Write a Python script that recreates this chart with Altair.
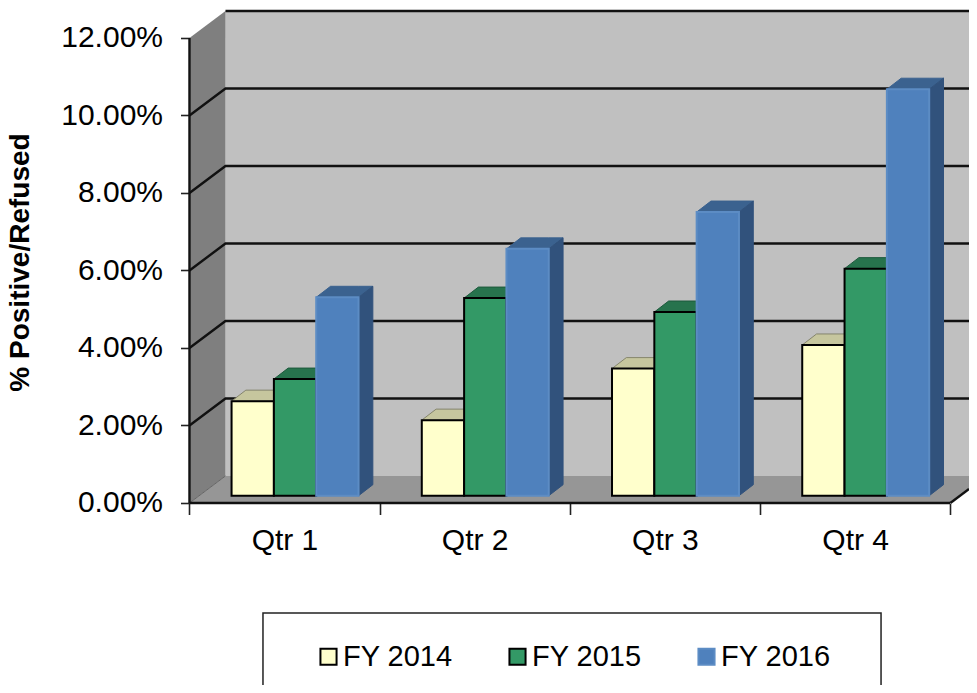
import altair as alt
import pandas as pd

# ---- chart values ----
quarters = ["Qtr 1", "Qtr 2", "Qtr 3", "Qtr 4"]
series = ["FY 2014", "FY 2015", "FY 2016"]
fy2014 = [0.0244, 0.0195, 0.0328, 0.0389]
fy2015 = [0.0301, 0.0510, 0.0474, 0.0586]
fy2016 = [0.0512, 0.0637, 0.0732, 0.1049]
y_ticks = [0, 0.02, 0.04, 0.06, 0.08, 0.10, 0.12]
x_ticks = [0, 1, 2, 3, 4]

front_colors = ["#ffffcc", "#339966", "#4f81bd"]
top_colors = ["#c6c69e", "#27734d", "#3b628f"]
side_colors = ["#b0b08c", "#226644", "#31527c"]
outline_colors = ["#85856c", "#1d5a3c", "#3b628f"]
edge_colors = ["#000000", "#000000", "#5c8cc4"]

# ---- 3D projection of the box, in data units ----
XMIN, XMAX = -0.954, 4.098
YMIN, YMAX = -0.04697, 0.12774
WALL_DX, WALL_DY = 0.1893, 0.00697   # front plane -> back wall
BAR_DX, BAR_DY = 0.0752, 0.00284     # depth of a bar
BAR_X0, BAR_W = 0.2213, 0.2225       # first bar's offset in a category, bar width
BAR_BASE = 0.00188                   # rise of the bars' plane above the front edge

xs = alt.Scale(domain=[XMIN, XMAX], range=[0, 961], nice=False, zero=False)
ys = alt.Scale(domain=[YMIN, YMAX], range=[677, 0], nice=False, zero=False)

x_axis = alt.Axis(
    values=x_ticks, offset=-181.5, domain=False, grid=False,
    tickSize=11, tickWidth=1.6, tickColor="#222222", labelPadding=11,
    labelExpr="datum.value < 4 ? 'Qtr ' + (datum.value + 1) : ''",
    labelOffset=95, labelAlign="center",
    labelFont="Liberation Sans", labelFontSize=30, labelColor="#000000",
    labelOverlap=False, labelBound=False, labelFlush=False)
y_axis = alt.Axis(
    values=y_ticks, format=".2%", offset=-181.5, domain=False, grid=False,
    tickSize=9, tickWidth=1.6, tickColor="#222222", labelPadding=18,
    labelFont="Liberation Sans", labelFontSize=30, labelColor="#000000",
    titleFont="Liberation Sans", titleFontSize=28, titleFontWeight="bold",
    titleColor="#000000", titleX=-155.5, titleY=254, titleAngle=270,
    labelOverlap=False, labelBound=False, labelFlush=False)

X = lambda f: alt.X(f, type="quantitative", scale=xs, title=None, axis=x_axis)
Y = lambda f: alt.Y(f, type="quantitative", scale=ys, title="% Positive/Refused", axis=y_axis, stack=None)

# ---- walls ----
floor = pd.DataFrame({
    "x": [0, WALL_DX, 4, XMAX],
    "y": [0, 0, 0, (XMAX - 4) * WALL_DY / WALL_DX],
    "y2": [0, WALL_DY, WALL_DY, WALL_DY],
})
side_wall = pd.DataFrame({
    "x": [0, WALL_DX],
    "y": [0, WALL_DY],
    "y2": [y_ticks[-1], y_ticks[-1] + WALL_DY],
})
back_wall = pd.DataFrame({
    "x": [WALL_DX], "x2": [XMAX], "y": [WALL_DY], "y2": [y_ticks[-1] + WALL_DY],
})

floor_l = alt.Chart(floor).mark_area(color="#969696", opacity=1).encode(
    x=X("x"), y=Y("y"), y2="y2")
side_l = alt.Chart(side_wall).mark_area(color="#7f7f7f", opacity=1).encode(
    x=X("x"), y=Y("y"), y2="y2")
back_l = alt.Chart(back_wall).mark_rect(color="#c0c0c0", opacity=1).encode(
    x=X("x"), x2="x2", y=Y("y"), y2="y2")

# ---- gridlines, running along the side wall and then the back wall ----
grid_rows = []
for t in y_ticks[1:]:
    if t < y_ticks[-1]:
        grid_rows.append({"level": t, "x": 0, "y": t})
    grid_rows.append({"level": t, "x": WALL_DX, "y": t + WALL_DY})
    grid_rows.append({"level": t, "x": XMAX, "y": t + WALL_DY})
grid_l = alt.Chart(pd.DataFrame(grid_rows)).mark_line(color="#111111", strokeWidth=2.4).encode(
    x=X("x"), y=Y("y"), detail="level:N")

# ---- edges of the floor and the value axis line ----
edge_rows = pd.DataFrame({
    "k": ["front", "front", "right", "right", "left", "left"],
    "x": [0, 4, 4, XMAX, 0, WALL_DX],
    "y": [0, 0, 0, (XMAX - 4) * WALL_DY / WALL_DX, 0, WALL_DY],
})
edge_l = alt.Chart(edge_rows[edge_rows.k != "left"]).mark_line(color="#111111", strokeWidth=2.4).encode(
    x=X("x"), y=Y("y"), detail="k:N")
edge_left_l = alt.Chart(edge_rows[edge_rows.k == "left"]).mark_line(color="#666666", strokeWidth=1).encode(
    x=X("x"), y=Y("y"))
vaxis_l = alt.Chart(pd.DataFrame({"x": [0], "y": [0], "y2": [y_ticks[-1]]})).mark_rule(
    color="#111111", strokeWidth=2.4).encode(x=X("x"), y=Y("y"), y2="y2")

# ---- bars ----
fronts, face_layers = [], []
for s, (name, vals) in enumerate(zip(series, [fy2014, fy2015, fy2016])):
    tops, sides = [], []
    for q, v in enumerate(vals):
        x0 = q + BAR_X0 + s * BAR_W
        x1 = x0 + BAR_W
        b = BAR_BASE
        t = v + BAR_BASE
        fronts.append({"series": name, "x0": x0, "x1": x1, "b": b, "t": t})
        for x, y, y2 in [(x0, t, t), (x0 + BAR_DX, t, t + BAR_DY),
                         (x1, t, t + BAR_DY), (x1 + BAR_DX, t + BAR_DY, t + BAR_DY)]:
            tops.append({"id": q, "x": x, "y": y, "y2": y2})
        for x, y, y2 in [(x1, b, t), (x1 + BAR_DX, b + BAR_DY, t + BAR_DY)]:
            sides.append({"id": q, "x": x, "y": y, "y2": y2})
    for rows, fill, line in [(tops, top_colors[s], outline_colors[s]),
                             (sides, side_colors[s], side_colors[s])]:
        face_layers.append(
            alt.Chart(pd.DataFrame(rows)).mark_area(
                fill=fill, stroke=line, strokeWidth=1, opacity=1).encode(
                x=X("x"), y=Y("y"), y2="y2", detail="id:N"))

legend = alt.Legend(
    title=None, orient="none", legendX=306, legendY=634, direction="horizontal",
    columns=3, columnPadding=50, symbolType="square", symbolSize=260,
    symbolStrokeWidth=2, labelFont="Liberation Sans", labelFontSize=29,
    labelColor="#000000", labelOffset=0, padding=0, symbolOpacity=1,
)
fronts_l = alt.Chart(pd.DataFrame(fronts)).mark_rect(strokeWidth=2, opacity=1).encode(
    x=X("x0"), x2="x1", y=Y("b"), y2="t",
    fill=alt.Fill("series:N", scale=alt.Scale(domain=series, range=front_colors), legend=legend),
    stroke=alt.Stroke("series:N", scale=alt.Scale(domain=series, range=edge_colors), legend=legend),
)

# ---- legend frame (its bottom runs off the picture) ----
frame = pd.DataFrame({"x": [0.3864], "x2": [3.6356], "y": [-0.02839], "y2": [YMIN - 0.01]})
frame_l = alt.Chart(frame).mark_rect(
    filled=False, stroke="#222222", strokeWidth=1.5, clip=True).encode(
    x=X("x"), x2="x2", y=Y("y"), y2="y2")

chart = alt.layer(
    back_l, side_l, floor_l, edge_left_l, grid_l, edge_l, vaxis_l,
    *face_layers, frame_l, fronts_l,
).resolve_scale(x="shared", y="shared").properties(
    width=961, height=677, padding=0, background="#ffffff",
    autosize=alt.AutoSizeParams(type="none"),
).configure_view(stroke=None)

chart.save("out.html", embed_options={"renderer": "svg", "actions": False})
